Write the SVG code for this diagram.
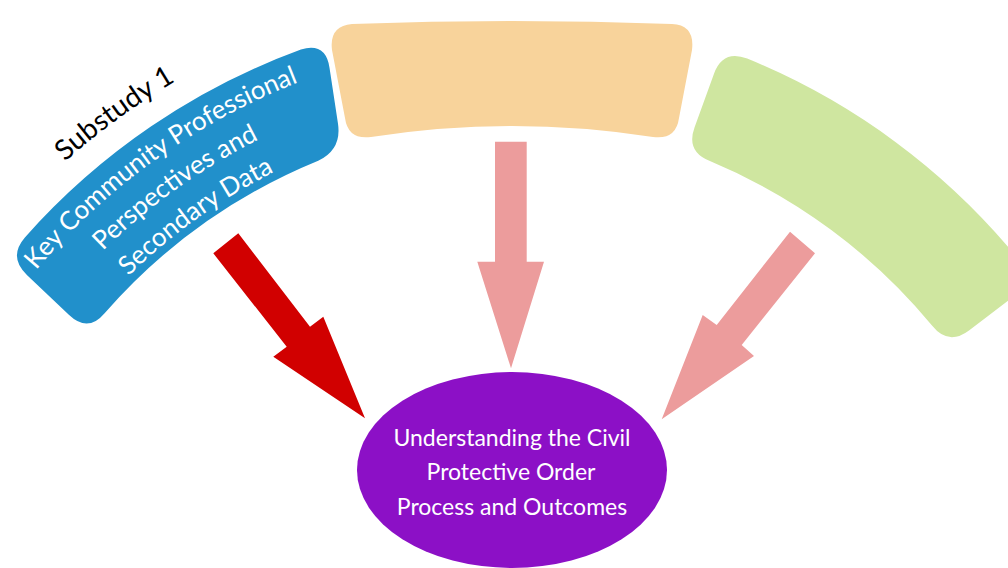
<svg xmlns="http://www.w3.org/2000/svg" width="1008" height="568" viewBox="0 0 1008 568">
  <style>
    .lbl { font-family: Lato, "Open Sans", "Liberation Sans", sans-serif; fill: #FFFFFF; }
    .arc-lbl { font-size: 26px; }
    .ttl { font-family: Lato, "Open Sans", "Liberation Sans", sans-serif; font-size: 28px; fill: #000000; }
    .ell-lbl { font-size: 23px; }
    .arrow-strong { fill: #D10000; }
    .arrow-soft { fill: #EC9C9C; }
  </style>
  <defs>
    <path id="arcT" d="M -133.9,461.0 A 707 707 0 0 1 521.4,-16.9"/>
    <path id="arc1" d="M -80.0,473.4 A 652 652 0 0 1 528.2,38.0"/>
    <path id="arc2" d="M -46.0,485.4 A 616 616 0 0 1 528.6,74.0"/>
    <path id="arc3" d="M -12.1,497.3 A 580 580 0 0 1 528.9,110.0"/>
  </defs>
  <rect width="1008" height="568" fill="#FFFFFF"/>

  <g id="node-substudy2">
    <path d="M 352,24 Q 512,18 672,24 Q 695,25 692,50 L 679,118 Q 676,140 653,137 Q 512,115 371,137 Q 348,140 345,118 L 332,50 Q 329,26 352,24 Z" fill="#F8D39B"/>
  </g>

  <g id="node-substudy3">
    <path d="M 747.2,58.6 A 684 684 0 0 1 1019.0,259.8 Q 1035.2,280.4 1014.4,296.0 L 969.0,330.4 Q 948.2,346 932.0,325.5 A 575 575 0 0 0 709.9,161.1 Q 685.7,151.7 694.6,127.3 L 714.0,73.7 Q 722.9,49.3 747.2,58.6 Z" fill="#CFE6A0"/>
  </g>

  <g id="node-substudy1">
    <path d="M 24.9,237.4 A 682 682 0 0 1 300.9,49.5 Q 325.7,42 329.5,67.7 L 338.0,123.8 Q 341.8,149.5 318.2,160.7 A 572 572 0 0 0 104.6,313.2 Q 88,333 69.1,315.1 L 26.9,274.9 Q 8,257 24.9,237.4 Z" fill="#2190CB"/>
    <text class="ttl"><textPath href="#arcT" startOffset="50%" text-anchor="middle">Substudy 1</textPath></text>
    <text class="lbl arc-lbl"><textPath href="#arc1" startOffset="50%" text-anchor="middle">Key Community Professional</textPath></text>
    <text class="lbl arc-lbl"><textPath href="#arc2" startOffset="50%" text-anchor="middle">Perspectives and</textPath></text>
    <text class="lbl arc-lbl"><textPath href="#arc3" startOffset="50%" text-anchor="middle">Secondary Data</textPath></text>
  </g>

  <g id="connectors">
    <polygon class="arrow-strong" points="213.3,253.3 238.3,233.3 310,326.7 323.3,316.7 365,418.3 273.3,356.7 286.7,346.7"/>
    <polygon class="arrow-soft" points="495,141.7 526.7,141.7 526.7,261.7 544,261.7 511,368.3 477.3,261.7 495,261.7"/>
    <polygon class="arrow-soft" points="790,231.7 815,253.3 741.7,345 754,356 661.7,419.3 702.7,315 716.7,325"/>
  </g>

  <g id="node-outcome">
    <ellipse cx="512" cy="470" rx="155" ry="98" fill="#8C10C6"/>
    <text class="lbl ell-lbl" x="512" y="446" text-anchor="middle">Understanding the Civil</text>
    <text class="lbl ell-lbl" x="511" y="480" text-anchor="middle">Protective Order</text>
    <text class="lbl ell-lbl" x="512" y="515" text-anchor="middle">Process and Outcomes</text>
  </g>
</svg>
